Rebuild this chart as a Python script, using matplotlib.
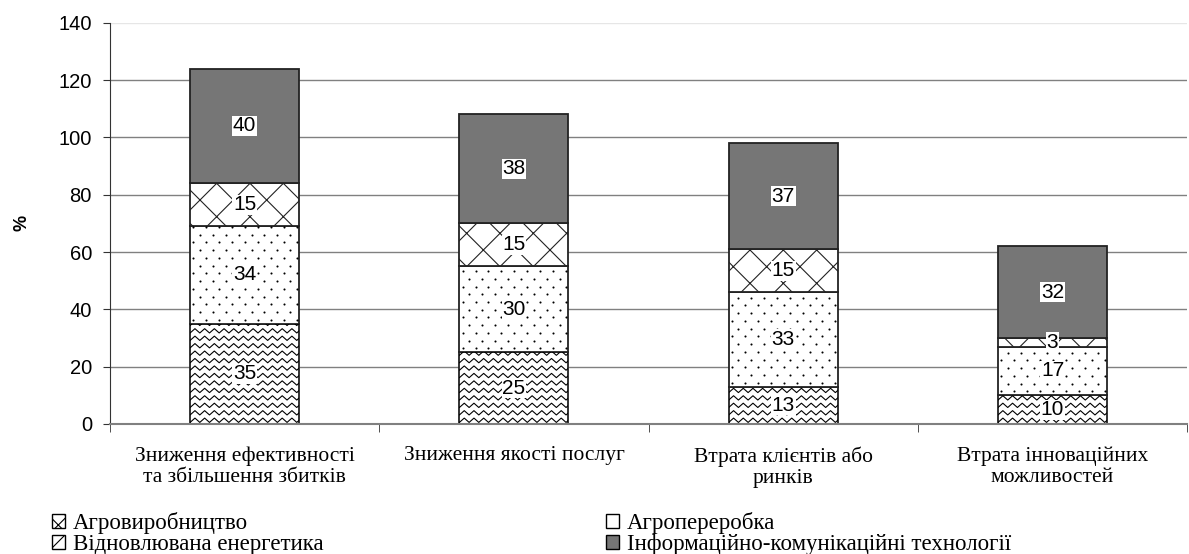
import numpy as np
import matplotlib
matplotlib.use("Agg")
import matplotlib.pyplot as plt
from matplotlib.patches import Patch

# data
categories = ["Зниження ефективності\nта збільшення збитків",
              "Зниження якості послуг",
              "Втрата клієнтів або\nринків",
              "Втрата інноваційних\nможливостей"]
agro_prod = [35, 25, 13, 10]      # Агровиробництво
agro_proc = [34, 30, 33, 17]      # Агропереробка
renewable = [15, 15, 15, 3]       # Відновлювана енергетика
ict = [40, 38, 37, 32]            # Інформаційно-комунікаційні технології

plt.rcParams["hatch.linewidth"] = 0.8
sans = "Liberation Sans"
serif = "Liberation Serif"

fig = plt.figure(figsize=(11.89, 5.54), dpi=100)
ax = fig.add_axes([0.0925, 0.2347, 0.906, 0.7243])

x = np.arange(len(categories))
w = 0.405
gray = "#808080"
edge = "#222222"


def zigzag(ax, rect, period=0.036, amp=0.75, step=2.6):
    # wavy texture clipped to a bar
    x0, y0 = rect.get_x(), rect.get_y()
    x1, y1 = x0 + rect.get_width(), y0 + rect.get_height()
    xs = np.arange(x0 - period, x1 + period, period / 2)
    offs = np.where(np.arange(len(xs)) % 2 == 0, -amp, amp)
    yy = y0 + step / 2
    while yy < y1 + step:
        ln, = ax.plot(xs, yy + offs, color="black", lw=0.8, zorder=3)
        ln.set_clip_path(rect)
        yy += step


def dots(ax, rect, dx=0.048, dy=2.7):
    # sparse staggered dot texture clipped to a bar
    x0, y0 = rect.get_x(), rect.get_y()
    x1, y1 = x0 + rect.get_width(), y0 + rect.get_height()
    px, py = [], []
    row = 0
    yy = y0 + dy / 2
    while yy < y1:
        xx = x0 + dx / 4 + (dx / 2 if row % 2 else 0)
        while xx < x1:
            px.append(xx)
            py.append(yy)
            xx += dx
        yy += dy
        row += 1
    ln, = ax.plot(px, py, ls="none", marker="o", ms=1.5, mew=0, color="black", zorder=3)
    ln.set_clip_path(rect)


b1 = ax.bar(x, agro_prod, w, color="white", edgecolor=edge, lw=1.3, zorder=2)
for r in b1:
    zigzag(ax, r)
bottom = np.array(agro_prod)
b2 = ax.bar(x, agro_proc, w, bottom=bottom, color="white", edgecolor=edge,
            lw=1.3, zorder=2)
for r in b2:
    dots(ax, r)
bottom = bottom + np.array(agro_proc)
b3 = ax.bar(x, renewable, w, bottom=bottom, color="white", edgecolor=edge,
            lw=1.3, hatch="x", zorder=2)
bottom = bottom + np.array(renewable)
b4 = ax.bar(x, ict, w, bottom=bottom, color="#767676", edgecolor=edge,
            lw=1.3, zorder=2)

for cont, vals in [(b1, agro_prod), (b2, agro_proc), (b3, renewable), (b4, ict)]:
    for r, v in zip(cont, vals):
        ax.text(r.get_x() + r.get_width() / 2, r.get_y() + r.get_height() / 2, str(v),
                ha="center", va="center", fontsize=15, family=sans, zorder=5,
                bbox=dict(facecolor="white", edgecolor="none", pad=0.5))

ax.set_ylim(0, 140)
ax.set_xlim(-0.5, len(categories) - 0.5)
ax.set_yticks(np.arange(0, 141, 20))
ax.tick_params(axis="y", labelsize=14.5, length=5, color="#333333", pad=8)
for lab in ax.get_yticklabels():
    lab.set_family(sans)
ax.set_xticks(x)
ax.set_xticklabels(categories, family=serif, fontsize=15.5, linespacing=1.15)
ax.tick_params(axis="x", length=0, pad=16)
ax.set_xticks(np.arange(-0.5, len(categories), 1), minor=True)
ax.tick_params(axis="x", which="minor", length=6, color="#333333")

ax.set_axisbelow(True)
ax.yaxis.grid(True, color=gray, lw=1)
ax.get_ygridlines()[-1].set_color("#e6e6e6")
for s in ["top", "right"]:
    ax.spines[s].set_visible(False)
ax.spines["left"].set_color("#333333")
ax.spines["bottom"].set_color(gray)
ax.spines["bottom"].set_linewidth(1.5)
ax.set_ylabel("%", fontsize=13, fontweight="bold", family=sans, labelpad=20)

h1 = Patch(facecolor="white", edgecolor="black", hatch="xx")
h2 = Patch(facecolor="white", edgecolor="black", hatch="/")
h3 = Patch(facecolor="white", edgecolor="black")
h4 = Patch(facecolor="#767676", edgecolor="black")
kw = dict(frameon=False, handlelength=0.55, handleheight=0.55, handletextpad=0.35,
          labelspacing=0.0, borderaxespad=0, loc="upper left",
          prop={"family": serif, "size": 16.5})
fig.legend([h1, h2], ["Агровиробництво", "Відновлювана енергетика"],
           bbox_to_anchor=(0.036, 0.092), **kw)
fig.legend([h3, h4], ["Агропереробка", "Інформаційно-комунікаційні технології"],
           bbox_to_anchor=(0.502, 0.092), **kw)

fig.savefig("out.png", dpi=100)
